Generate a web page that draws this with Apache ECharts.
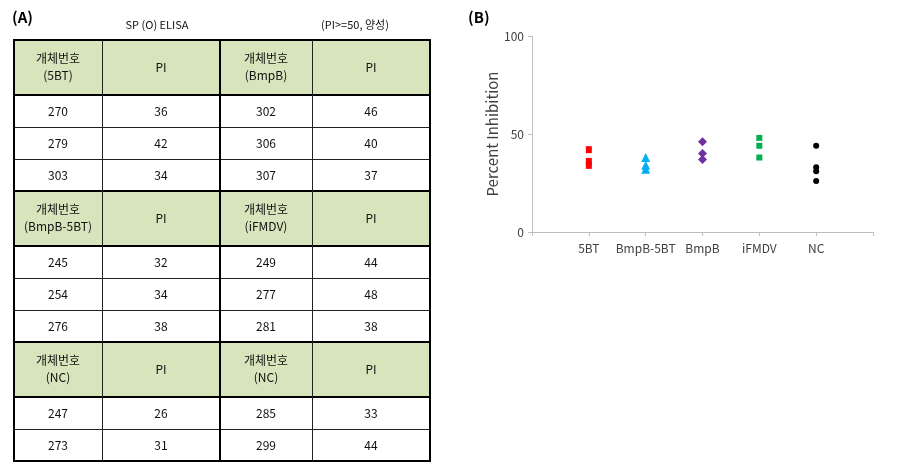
<!DOCTYPE html>
<html>
<head>
<meta charset="utf-8">
<script src="https://cdn.jsdelivr.net/npm/echarts@6/dist/echarts.min.js"></script>
<style>html,body{margin:0;padding:0;background:#fff}#c{width:917px;height:464px}</style>
</head>
<body>
<div id="c"></div>
<script>
// ---- data ----
const tableTitle = 'SP (O) ELISA';
const tableNote = '(PI>=50, 양성)';
const headerWord = '개체번호';
const piHeader = 'PI';
const groupsLeft = ['5BT', 'BmpB-5BT', 'NC'];
const groupsRight = ['BmpB', 'iFMDV', 'NC'];
const idsLeft = [[270, 279, 303], [245, 254, 276], [247, 273]];
const piLeft = [[36, 42, 34], [32, 34, 38], [26, 31]];
const idsRight = [[302, 306, 307], [249, 277, 281], [285, 299]];
const piRight = [[46, 40, 37], [44, 48, 38], [33, 44]];

const categories = ['5BT', 'BmpB-5BT', 'BmpB', 'iFMDV', 'NC'];
const val5BT = [36, 42, 34];
const valBmpB5BT = [32, 34, 38];
const valBmpB = [46, 40, 37];
const valIFMDV = [44, 48, 38];
const valNC = [26, 31, 33, 44];
const yTicks = [0, 50, 100];

// ---- table layout (graphic) ----
const font = '"Noto Sans CJK KR", "Noto Sans", sans-serif';
const colX = [14, 102, 220, 312, 430];
const tableTop = 40, headH = 55, rowH = 32;
const g = [];
function txt(x, y, s, opt) {
  g.push(Object.assign({type: 'text', x: x, y: y, style: Object.assign({text: s, fill: '#111', font: '12px ' + font, textAlign: 'center', textVerticalAlign: 'middle'}, opt || {})}));
}
function line(x1, y1, x2, y2, w, c) {
  g.push({type: 'line', shape: {x1: x1, y1: y1, x2: x2, y2: y2}, style: {stroke: c || '#000', lineWidth: w}, z: 10});
}
let y = tableTop;
const thickY = [], thinY = [];
thickY.push(y);
for (let gi = 0; gi < groupsLeft.length; gi++) {
  g.push({type: 'rect', shape: {x: colX[0], y: y, width: colX[4] - colX[0], height: headH}, style: {fill: '#D8E4BC'}});
  const cx = i => (colX[i] + colX[i + 1]) / 2;
  txt(cx(0), y + headH / 2 - 9, headerWord);
  txt(cx(0), y + headH / 2 + 8, '(' + groupsLeft[gi] + ')');
  txt(cx(1), y + headH / 2, piHeader);
  txt(cx(2), y + headH / 2 - 9, headerWord);
  txt(cx(2), y + headH / 2 + 8, '(' + groupsRight[gi] + ')');
  txt(cx(3), y + headH / 2, piHeader);
  y += headH;
  thickY.push(y);
  for (let r = 0; r < idsLeft[gi].length; r++) {
    txt(cx(0), y + rowH / 2, String(idsLeft[gi][r]));
    txt(cx(1), y + rowH / 2, String(piLeft[gi][r]));
    txt(cx(2), y + rowH / 2, String(idsRight[gi][r]));
    txt(cx(3), y + rowH / 2, String(piRight[gi][r]));
    y += rowH;
    if (r < idsLeft[gi].length - 1) thinY.push(y);
  }
  thickY.push(y);
}
const tableBottom = y;
thinY.forEach(v => line(colX[0], v + 0.5, colX[4], v + 0.5, 1, '#222'));
thickY.forEach(v => line(colX[0] - 1, v, colX[4] + 1, v, 2));
line(colX[0], tableTop, colX[0], tableBottom, 2);
line(colX[4], tableTop, colX[4], tableBottom, 2);
line(colX[2], tableTop, colX[2], tableBottom, 2);
line(colX[1] + 0.5, tableTop, colX[1] + 0.5, tableBottom, 1, '#222');
line(colX[3] + 0.5, tableTop, colX[3] + 0.5, tableBottom, 1, '#222');
txt(12, 17, '(A)', {textAlign: 'left', font: 'bold 15px ' + font, fill: '#000'});
txt(468, 17, '(B)', {textAlign: 'left', font: 'bold 15px ' + font, fill: '#000'});
txt(157, 25, tableTitle, {font: '11px ' + font});
txt(355, 25, tableNote, {font: '11px ' + font});

// ---- chart ----
const chart = echarts.init(document.getElementById('c'));
const seriesVals = [val5BT, valBmpB5BT, valBmpB, valIFMDV, valNC];
const symbols = ['rect', 'triangle', 'diamond', 'rect', 'circle'];
const sizes = [[6, 7], 9, 9, [6, 6], 6];
const colors = ['#FF0000', '#00B0F0', '#7030A0', '#00B050', '#000000'];
const series = seriesVals.map((vals, i) => ({
  type: 'scatter',
  name: categories[i],
  data: vals.map(v => [i + 1, v]),
  symbol: symbols[i],
  symbolSize: sizes[i],
  itemStyle: {color: colors[i], opacity: 1}
}));

chart.setOption({
  animation: false,
  backgroundColor: '#fff',
  graphic: g,
  grid: {left: 532, right: 44, top: 36, bottom: 232},
  xAxis: {
    type: 'value', min: 0, max: 6, interval: 1,
    splitLine: {show: false},
    axisLine: {lineStyle: {color: '#BFBFBF'}},
    axisTick: {show: true, length: 4, lineStyle: {color: '#BFBFBF'}},
    axisLabel: {
      margin: 10, color: '#404040', fontSize: 12, fontFamily: font,
      formatter: v => (v >= 1 && v <= categories.length) ? categories[v - 1] : ''
    }
  },
  yAxis: {
    type: 'value', min: yTicks[0], max: yTicks[yTicks.length - 1], interval: 50,
    name: 'Percent Inhibition', nameLocation: 'middle', nameGap: 32,
    nameTextStyle: {color: '#404040', fontSize: 15, fontFamily: font},
    splitLine: {show: false},
    axisLine: {show: true, lineStyle: {color: '#BFBFBF'}},
    axisTick: {show: true, length: 4, lineStyle: {color: '#BFBFBF'}},
    axisLabel: {margin: 8, color: '#404040', fontSize: 12, fontFamily: font}
  },
  series: series
});
</script>
</body>
</html>
